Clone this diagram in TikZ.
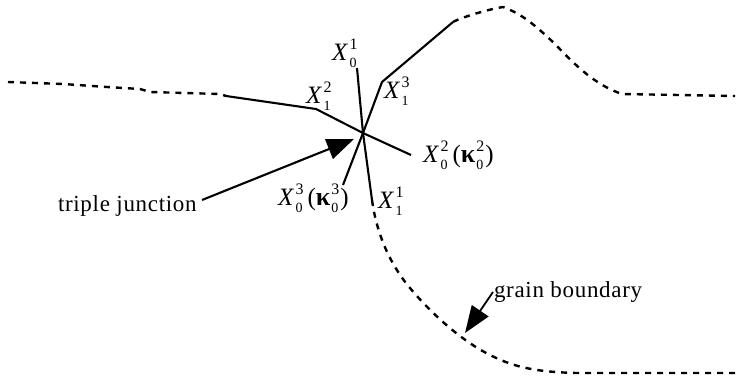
\documentclass[tikz,border=0pt]{standalone}
\usepackage{fontspec}
\setmainfont{Liberation Serif}
\newfontfamily\spaced[LetterSpace=3]{Liberation Serif}
\usetikzlibrary{arrows.meta}
% X with stacked superscript and subscript
\newcommand{\scr}[2]{\rlap{\raisebox{10.5pt}{\fontsize{16}{16}\selectfont #1}}\raisebox{-7pt}{\fontsize{14}{14}\selectfont #2}}
\newcommand{\Xlab}[2]{\textit{X}\kern1.5pt\scr{#1}{#2}}
\newcommand{\Klab}[2]{{\fontsize{26}{26}\selectfont\textbf{κ}}\kern1pt\scr{#1}{#2}}
\tikzset{
  lab/.style={inner sep=0pt,outer sep=0pt,anchor=base west,font=\fontsize{25}{25}\selectfont},
  word/.style={inner sep=0pt,outer sep=0pt,anchor=base west,font=\fontsize{23}{23}\selectfont\spaced},
  solidline/.style={line width=2.1pt,black},
  dashline/.style={line width=2.4pt,black,dash pattern=on 6pt off 6pt},
  bigarrow/.style={line width=2.1pt,-{Triangle[length=27pt,width=21pt]}},
  smallarrow/.style={line width=1.8pt,-{Triangle[length=27pt,width=20pt]}}
}
\begin{document}
\begin{tikzpicture}[x=1pt,y=-1pt]
\useasboundingbox (0,0) rectangle (739,380);
\coordinate (J) at (363,133);
\coordinate (L1) at (226,96);
\coordinate (L2) at (316,109);
\coordinate (A) at (411,155);
\coordinate (B1) at (357,68);
\coordinate (B2) at (372,200);
\coordinate (C1) at (343,185);
\coordinate (C2) at (382,82);
\coordinate (C3) at (453,22);
\coordinate (T1) at (202,200);
\coordinate (T2) at (354,139);
\coordinate (G1) at (493,292);
\coordinate (G2) at (465,333);
% solid segments
\draw[solidline,line join=round] (L1) -- (L2) -- (J) -- (A);
\draw[solidline] (B1) -- (J) -- (B2);
\draw[solidline,line join=round] (C1) -- (J) -- (C2) -- (C3);
% dashed boundaries
\draw[dashline] (8,82) -- (63,84) -- (107,87) -- (140,89) -- (150,92) -- (220,94) -- (L1);
\draw[dashline] (C3) .. controls (460,18) and (485,10) .. (503,7)
  .. controls (522,14) and (535,25) .. (555,44)
  .. controls (575,65) and (595,85) .. (622,94) -- (735,96);
\draw[dashline] (B2) .. controls (376,230) and (388,262) .. (410,288)
  .. controls (430,312) and (460,340) .. (490,355)
  .. controls (510,365) and (530,372) .. (577,373) -- (738,373);
% arrows
\draw[bigarrow] (T1) -- (T2);
\draw[smallarrow] (G1) -- (G2);
% labels
\node[lab] (x01) at (332,60) {\Xlab{1}{0}};
\node[lab] (x12) at (306,103) {\Xlab{2}{1}};
\node[lab] (x13) at (384,98) {\Xlab{3}{1}};
\node[lab] (x02) at (423,162) {\Xlab{2}{0}\kern5pt(\Klab{2}{0}\kern2pt)};
\node[lab] (x03) at (278,205) {\Xlab{3}{0}\kern5pt(\Klab{3}{0}\kern2pt)};
\node[lab] (x11) at (378,208) {\Xlab{1}{1}};
\node[word] (tj) at (58,211) {triple junction};
\node[word] (gb) at (494,297) {grain boundary};
\end{tikzpicture}
\end{document}
